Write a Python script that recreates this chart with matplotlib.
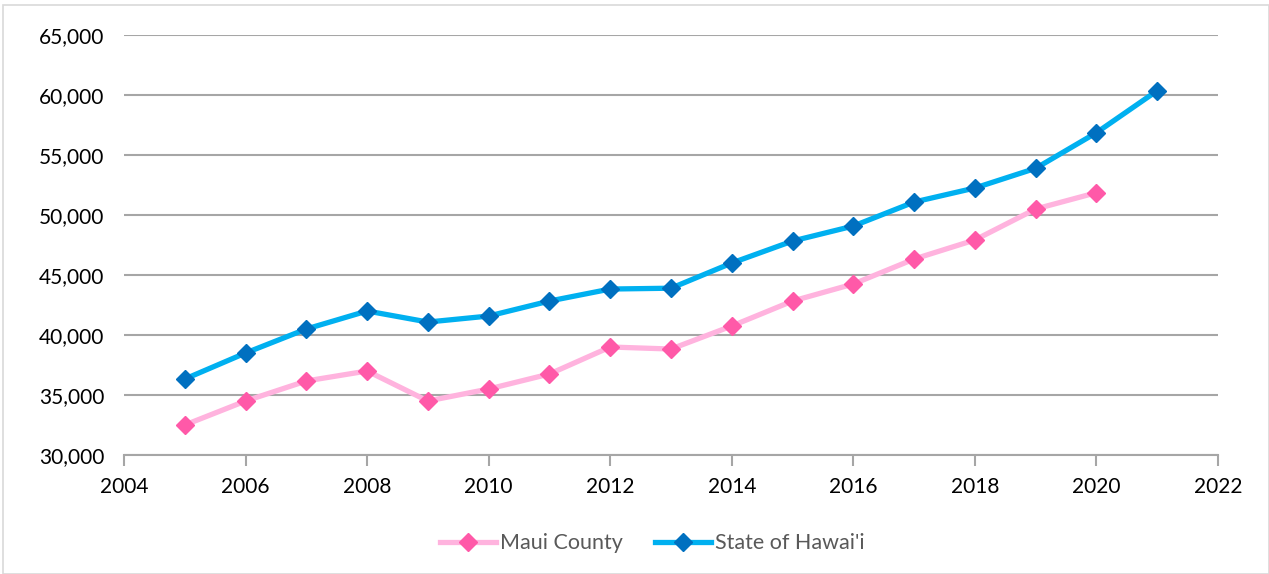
import matplotlib
matplotlib.use("Agg")
import matplotlib.pyplot as plt
from matplotlib.patches import Rectangle

years_maui = [2005, 2006, 2007, 2008, 2009, 2010, 2011, 2012, 2013, 2014,
              2015, 2016, 2017, 2018, 2019, 2020]
maui = [32500, 34500, 36170, 37000, 34500, 35500, 36750, 39000, 38830, 40750,
        42830, 44250, 46330, 47920, 50500, 51860]

years_hi = [2005, 2006, 2007, 2008, 2009, 2010, 2011, 2012, 2013, 2014,
            2015, 2016, 2017, 2018, 2019, 2020, 2021]
hawaii = [36330, 38500, 40500, 42000, 41080, 41580, 42830, 43830, 43900, 46000,
          47830, 49080, 51080, 52250, 53890, 56860, 60360]

x_ticks = list(range(2004, 2023, 2))
y_ticks = list(range(30000, 65001, 5000))

plt.rcParams["font.family"] = ["Lato", "DejaVu Sans"]

fig = plt.figure(figsize=(12.69, 5.74), dpi=100)
fig.patches.append(Rectangle((3 / 1269, 0), 1 - 3 / 1269, 1 - 5 / 574,
                             transform=fig.transFigure, fill=False,
                             edgecolor="#D9D9D9", linewidth=1.2))
ax = fig.add_axes([124 / 1269, 119 / 574, 1094 / 1269, 420 / 574])

ax.plot(years_maui, maui, color="#FFB3DE", linewidth=3.8, marker="D",
        markersize=9, markerfacecolor="#FF59A8", markeredgecolor="#FF59A8",
        label="Maui County", zorder=3)
ax.plot(years_hi, hawaii, color="#00B0F0", linewidth=3.8, marker="D",
        markersize=9, markerfacecolor="#0070C0", markeredgecolor="#0070C0",
        label="State of Hawai'i", zorder=4)

ax.set_xlim(2004, 2022)
ax.set_ylim(30000, 65000)
ax.set_xticks(x_ticks)
ax.set_yticks(y_ticks)
ax.set_yticklabels([f"{v:,}" for v in y_ticks])
ax.grid(axis="y", color="#A6A6A6", linewidth=1.5)
ax.set_axisbelow(True)
for s in ("left", "right", "top"):
    ax.spines[s].set_visible(False)
ax.spines["bottom"].set_color("#A6A6A6")
ax.spines["bottom"].set_linewidth(1.5)
ax.tick_params(axis="y", length=0, pad=14, labelsize=15, labelcolor="#000000")
ax.tick_params(axis="x", length=8, width=1.5, color="#A6A6A6", pad=8,
               labelsize=15, labelcolor="#000000")

ax.legend(loc="upper center", bbox_to_anchor=(0.483, -0.14), ncol=2,
          frameon=False, fontsize=15.5, labelcolor="#595959",
          handlelength=2.6, columnspacing=1.5, handletextpad=0.2)

fig.savefig("out.png", dpi=100)
